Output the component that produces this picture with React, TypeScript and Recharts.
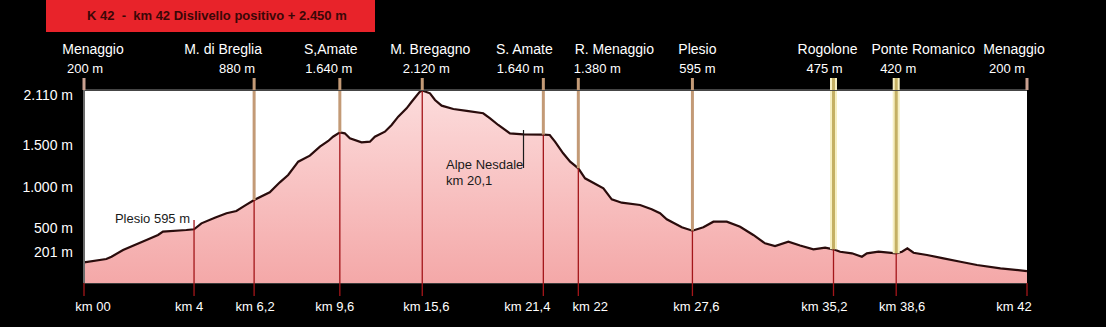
import React from 'react';
import { AreaChart, Area, XAxis, YAxis, CartesianGrid, ReferenceLine } from 'recharts';

// Route profile: distance (km) and height (m)
const profileKm = [
  0, 0.81, 1.0, 1.42, 1.78, 2.27, 2.69, 2.87, 3.72, 4.0,
  4.27, 4.76, 5.19, 5.55, 5.86, 6.2,
  6.82, 7.22, 7.55, 7.95, 8.41, 8.81, 9.14, 9.33, 9.6,
  9.96, 10.33, 11.18, 11.79, 12.15, 12.88, 13.37, 13.85, 14.46, 14.83, 15.43, 15.6,
  15.97, 16.21, 16.53, 17.09, 17.73, 18.52, 18.85, 19.24, 19.8, 20.44, 21.4,
  21.51, 21.6, 21.74, 21.86, 22.0,
  22.33, 23.23, 23.64, 24.13, 25.03, 25.6, 26.01, 26.34, 27.08, 27.6,
  28.19, 28.73, 29.45, 30.17, 30.88, 31.51, 32.05, 32.77, 33.4, 34.12, 34.75, 35.2,
  35.56, 36.2, 36.74, 37.01, 37.64, 38.6,
  38.75, 38.89, 39.05, 39.4, 39.83, 40.27, 40.7, 41.31, 42,
];
const profileHeight = [
  82, 122, 150, 231, 283, 352, 413, 453, 473, 482,
  554, 622, 676, 704, 768, 837,
  930, 1051, 1140, 1301, 1374, 1483, 1552, 1604, 1657,
  1645, 1585, 1536, 1544, 1604, 1665, 1746, 1847, 1948, 2028, 2150, 2164,
  2130, 2049, 1980, 1940, 1916, 1888, 1827, 1746, 1645, 1633, 1628,
  1625, 1544, 1403, 1301, 1221,
  1100, 979, 845, 804, 776, 724, 676, 603, 506, 465,
  506, 574, 574, 513, 413, 312, 279, 331, 285, 239, 259, 239,
  210, 191, 150, 191, 210, 191,
  210, 251, 198, 170, 130, 89, 49, 9, -24,
];

// distance axis
const kmTicks = [0, 4, 6.2, 9.6, 15.6, 21.4, 22, 27.6, 35.2, 38.6, 42];
const kmLabels = ['km 00', 'km 4', 'km 6,2', 'km 9,6', 'km 15,6', 'km 21,4', 'km 22', 'km 27,6', 'km 35,2', 'km 38,6', 'km 42'];

// named places along the top
const placeKm = [0, 6.2, 9.6, 15.6, 21.4, 22, 27.6, 35.2, 38.6, 42];
const placeNames = ['Menaggio', 'M. di Breglia', 'S,Amate', 'M. Bregagno', 'S. Amate', 'R. Menaggio', 'Plesio', 'Rogolone', 'Ponte Romanico', 'Menaggio'];
const placeHeights = ['200 m', '880 m', '1.640 m', '2.120 m', '1.640 m', '1.380 m', '595 m', '475 m', '420 m', '200 m'];

// height axis
const heightTicks = [201, 500, 1000, 1500, 2110];
const heightLabels = ['201 m', '500 m', '1.000 m', '1.500 m', '2.110 m'];

// notes inside the plot
const plesioNote = { km: 4, height: 595, text: 'Plesio 595 m' };
const nesdaleNote = { km: 20.45, from: 1225, to: 1685, lines: ['Alpe Nesdale', 'km 20,1'] };

// ---- layout ----
// the drawing's distance axis is uneven: share of plot width at which each km tick sits
const kmTickShare = [0, 0.1167, 0.1804, 0.2713, 0.3587, 0.4871, 0.5242, 0.6452, 0.7948, 0.8613, 1];
const placeNameDx = [9, -31, -9, 8, -19, 36, 5, -6, 27, -13];
const placeHeightDx = [1, -17, -11, 4, -23, 19, 5, -9, 2, -20];
const kmLabelDx = [9, -5, 1, -5, 4, -16, 12, 4, -9, 6, -13];
const HEIGHT_DOMAIN = [-169, 2170];
const FONT = '"Liberation Sans", Arial, sans-serif';
const RED = '#a3161a';

const profile = profileKm.map((km, i) => ({ km, height: profileHeight[i] }));

function heightAt(km: number) {
  for (let i = 1; i < profileKm.length; i++) {
    if (km <= profileKm[i]) {
      const t = (km - profileKm[i - 1]) / (profileKm[i] - profileKm[i - 1]);
      return profileHeight[i - 1] + t * (profileHeight[i] - profileHeight[i - 1]);
    }
  }
  return profileHeight[profileHeight.length - 1];
}

// piecewise-linear scale following the uneven km ticks
function unevenKmScale(dom: number[] = [0, 42], rng: number[] = [0, 1]): any {
  let d = dom.slice();
  let r = rng.slice();
  const share = (v: number) => {
    if (v <= kmTicks[0]) return 0;
    for (let i = 1; i < kmTicks.length; i++) {
      if (v <= kmTicks[i]) {
        const t = (v - kmTicks[i - 1]) / (kmTicks[i] - kmTicks[i - 1]);
        return kmTickShare[i - 1] + t * (kmTickShare[i] - kmTickShare[i - 1]);
      }
    }
    return 1;
  };
  const scale: any = (v: number) => r[0] + share(Number(v)) * (r[1] - r[0]);
  scale.domain = (x?: number[]) => {
    if (x === undefined) return d.slice();
    d = x.slice();
    return scale;
  };
  scale.range = (x?: number[]) => {
    if (x === undefined) return r.slice();
    r = x.slice();
    return scale;
  };
  scale.copy = () => unevenKmScale(d, r);
  scale.ticks = () => kmTicks.slice();
  scale.tickFormat = () => (v: number) => String(v);
  scale.nice = () => scale;
  scale.clamp = () => scale;
  return scale;
}

const isYellowPost = (km: number) => km === 35.2 || km === 38.6;
const poleColor = (km: number) =>
  km === 0 || km === 42 ? '#c9a090' : isYellowPost(km) ? '#c4b064' : '#c39a76';

const PlaceTick = (props: any) => {
  const { x, y, payload } = props;
  const km = payload.value;
  const i = placeKm.indexOf(km);
  if (i < 0) return null;
  return (
    <g>
      {isYellowPost(km) && <line x1={x} x2={x} y1={y} y2={y - 12} stroke="#f6efc2" strokeWidth={7} />}
      <line x1={x} x2={x} y1={y} y2={y - 12} stroke={poleColor(km)} strokeWidth={3} />
      <text x={x + placeNameDx[i]} y={y - 36} textAnchor="middle" fill="#fff" fontSize={14} fontFamily={FONT}>
        {placeNames[i]}
      </text>
      <text x={x + placeHeightDx[i]} y={y - 17.5} textAnchor="middle" fill="#fff" fontSize={13} fontFamily={FONT}>
        {placeHeights[i]}
      </text>
    </g>
  );
};

const KmTick = (props: any) => {
  const { x, y, payload } = props;
  const i = kmTicks.indexOf(payload.value);
  if (i < 0) return null;
  return (
    <g>
      <line x1={x} x2={x} y1={y} y2={y + 13} stroke={RED} strokeWidth={1.3} />
      <text x={x + kmLabelDx[i]} y={y + 27.5} textAnchor="middle" fill="#fff" fontSize={13} fontFamily={FONT}>
        {kmLabels[i]}
      </text>
    </g>
  );
};

const PlesioLabel = (props: any) => {
  const vb = props.viewBox || {};
  return (
    <text x={vb.x - 4} y={vb.y + 3} textAnchor="end" fill="#1a1a1a" fontSize={13} fontFamily={FONT}>
      {plesioNote.text}
    </text>
  );
};

const NesdaleLabel = (props: any) => {
  const vb = props.viewBox || {};
  const left = vb.x - 77.5;
  return (
    <g fill="#1a1a1a" fontSize={13} fontFamily={FONT}>
      <text x={left} y={vb.y + vb.height + 1.5}>{nesdaleNote.lines[0]}</text>
      <text x={left} y={vb.y + vb.height + 17.5}>{nesdaleNote.lines[1]}</text>
    </g>
  );
};

const kmScaleBottom = unevenKmScale();
const kmScaleTop = unevenKmScale();

export default function App() {
  const innerPlaces = placeKm.filter((km) => km !== 0 && km !== 42);
  const redPosts = kmTicks.filter((km) => km !== 0 && km !== 42 && km !== plesioNote.km);
  return (
    <div
      style={{
        position: 'absolute',
        left: 0,
        top: 0,
        width: 1106,
        height: 327,
        background: '#000',
        overflow: 'hidden',
        fontFamily: FONT,
      }}
    >
      <div
        style={{
          position: 'absolute',
          left: 46,
          top: 0,
          width: 329,
          height: 32,
          background: '#e8232a',
          color: '#3a0707',
          fontWeight: 'bold',
          fontSize: 13,
          lineHeight: '32px',
          paddingLeft: 41,
          boxSizing: 'border-box',
          whiteSpace: 'pre',
          zIndex: 2,
        }}
      >
        {'K 42  -  km 42 Dislivello positivo + 2.450 m'}
      </div>
      <AreaChart width={1106} height={327} data={profile} margin={{ top: 0, right: 79, bottom: 0, left: 0 }}>
        <defs>
          <linearGradient id="profileFill" x1="0" y1="0" x2="0" y2="1">
            <stop offset="0%" stopColor="#fcdcdc" />
            <stop offset="100%" stopColor="#f4a8a8" />
          </linearGradient>
        </defs>
        <CartesianGrid fill="#ffffff" vertical={false} stroke="#ffffff" strokeOpacity={0.45} />
        <XAxis
          xAxisId="top"
          orientation="top"
          type="number"
          dataKey="km"
          scale={kmScaleTop}
          domain={[0, 42]}
          allowDataOverflow
          ticks={placeKm}
          interval={0}
          height={90}
          tickSize={0}
          tickMargin={0}
          tickLine={false}
          axisLine={{ stroke: '#454545', strokeWidth: 2 }}
          tick={<PlaceTick />}
        />
        <XAxis
          xAxisId="km"
          type="number"
          dataKey="km"
          scale={kmScaleBottom}
          domain={[0, 42]}
          allowDataOverflow
          ticks={kmTicks}
          interval={0}
          height={44}
          tickSize={0}
          tickMargin={0}
          tickLine={false}
          axisLine={false}
          tick={<KmTick />}
        />
        <YAxis
          type="number"
          domain={HEIGHT_DOMAIN}
          allowDataOverflow
          ticks={heightTicks}
          interval={0}
          width={84}
          tickSize={0}
          tickMargin={11}
          tickLine={false}
          axisLine={{ stroke: '#6a6a6a', strokeWidth: 2 }}
          tick={{ fill: '#ffffff', fontSize: 14, fontFamily: FONT }}
          tickFormatter={(v: number) => heightLabels[heightTicks.indexOf(v)]}
        />
        <Area
          xAxisId="km"
          type="linear"
          dataKey="height"
          baseValue="dataMin"
          stroke="#2a0c0c"
          strokeWidth={2.2}
          fill="url(#profileFill)"
          fillOpacity={1}
          dot={false}
          activeDot={false}
          isAnimationActive={false}
        />
        {innerPlaces.map((km) =>
          isYellowPost(km) ? (
            <ReferenceLine
              key={`glow-${km}`}
              xAxisId="km"
              segment={[{ x: km, y: heightAt(km) }, { x: km, y: HEIGHT_DOMAIN[1] }]}
              stroke="#f6efc2"
              strokeWidth={7}
            />
          ) : null
        )}
        {innerPlaces.map((km) => (
          <ReferenceLine
            key={`pole-${km}`}
            xAxisId="km"
            segment={[{ x: km, y: heightAt(km) }, { x: km, y: HEIGHT_DOMAIN[1] }]}
            stroke={poleColor(km)}
            strokeWidth={3}
          />
        ))}
        {redPosts.map((km) => (
          <ReferenceLine
            key={`post-${km}`}
            xAxisId="km"
            segment={[{ x: km, y: HEIGHT_DOMAIN[0] }, { x: km, y: heightAt(km) }]}
            stroke={RED}
            strokeWidth={1.3}
          />
        ))}
        <ReferenceLine
          xAxisId="km"
          segment={[{ x: plesioNote.km, y: HEIGHT_DOMAIN[0] }, { x: plesioNote.km, y: plesioNote.height }]}
          stroke={RED}
          strokeWidth={1.3}
          label={<PlesioLabel />}
        />
        <ReferenceLine
          xAxisId="km"
          segment={[{ x: nesdaleNote.km, y: nesdaleNote.from }, { x: nesdaleNote.km, y: nesdaleNote.to }]}
          stroke="#1a1a1a"
          strokeWidth={1.2}
          label={<NesdaleLabel />}
        />
      </AreaChart>
    </div>
  );
}
